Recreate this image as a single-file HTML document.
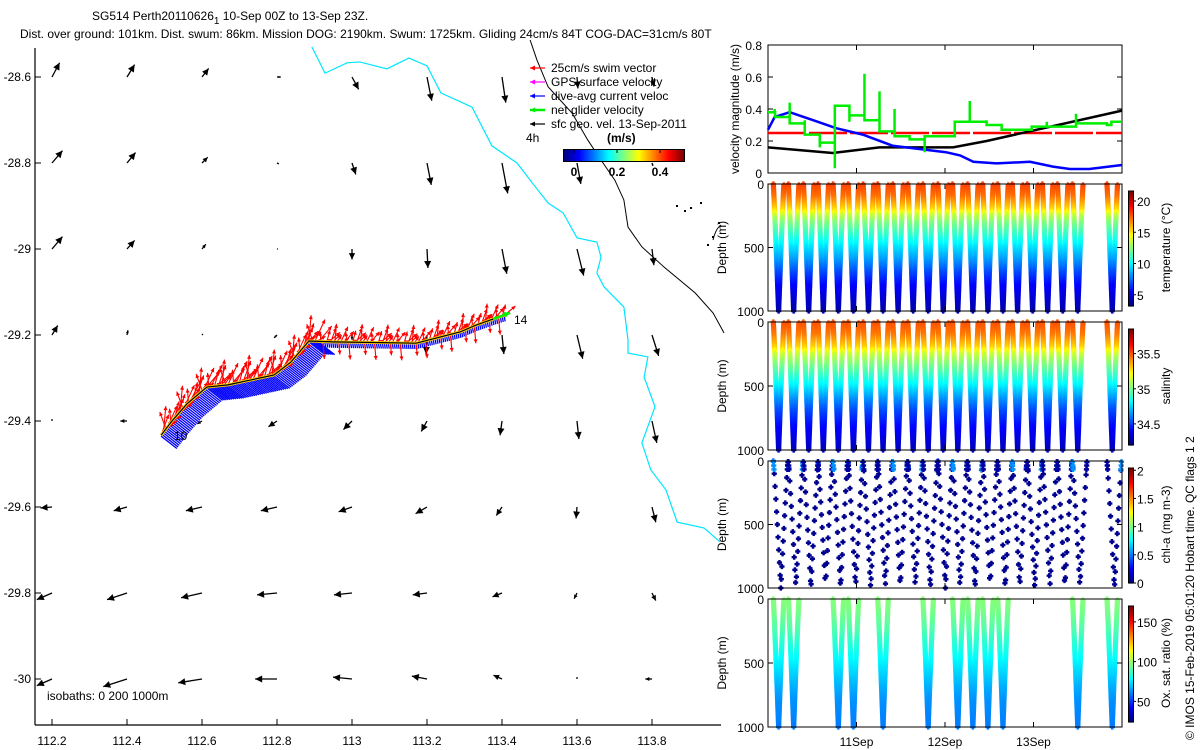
<!DOCTYPE html>
<html><head><meta charset="utf-8"><style>
html,body{margin:0;padding:0;background:#fff;}
svg{display:block;font-family:"Liberation Sans",sans-serif;}
text{font-size:12px;fill:#000;}
</style></head><body>
<svg id="fig" width="1200" height="750" viewBox="0 0 1200 750" xmlns="http://www.w3.org/2000/svg">
<rect width="1200" height="750" fill="#fff"/>
<text x="92" y="20">SG514 Perth20110626<tspan dy="4" font-size="10">1</tspan><tspan dy="-4">  10-Sep 00Z to 13-Sep 23Z.</tspan></text>
<text x="20" y="38">Dist. over ground: 101km. Dist. swum: 86km. Mission DOG: 2190km. Swum: 1725km. Gliding 24cm/s 84T COG-DAC=31cm/s 80T</text>
<g id="map"></g>
<g id="vel"></g>
<g id="prof"></g>
<text transform="translate(1194,740) rotate(-90)">© IMOS 15-Feb-2019 05:01:20 Hobart time. QC flags 1  2</text>
</svg>
<script>
// ---------- data ----------
const lonTicks=[112.2,112.4,112.6,112.8,113,113.2,113.4,113.6,113.8];
const latTicks=[-28.6,-28.8,-29,-29.2,-29.4,-29.6,-29.8,-30];
const geoU=[
[0.08,0.08,0.07,0.04,0.07,0.05,0.04,0.01,0.02],
[0.11,0.09,0.06,0.02,0.04,0.045,0.06,0.04,0.01],
[0.11,0.08,0.04,0.01,0.00,0.01,0.05,0.07,0.02],
[0.06,0.01,0.01,-0.03,0.00,-0.01,0.02,0.06,0.07],
[0.00,-0.07,-0.05,-0.09,-0.09,-0.06,-0.02,0.02,0.05],
[-0.12,-0.14,-0.17,-0.17,-0.14,-0.12,-0.06,-0.01,0.04],
[-0.16,-0.21,-0.22,-0.21,-0.19,-0.15,-0.10,-0.03,0.04],
[-0.16,-0.25,-0.25,-0.23,-0.20,-0.16,-0.09,0.00,-0.07]];
const geoV=[
[0.15,0.13,0.09,0.00,-0.13,-0.25,-0.27,-0.12,-0.10],
[0.13,0.11,0.06,-0.01,-0.12,-0.23,-0.32,-0.22,-0.03],
[0.13,0.09,0.05,0.00,-0.11,-0.20,-0.26,-0.28,-0.17],
[0.10,0.05,0.01,-0.03,-0.05,-0.20,-0.20,-0.25,-0.22],
[0.02,0.00,-0.03,-0.06,-0.09,-0.11,-0.15,-0.19,-0.23],
[-0.01,-0.04,-0.04,-0.04,-0.05,-0.07,-0.09,-0.12,-0.16],
[-0.07,-0.07,-0.05,-0.02,-0.02,-0.02,-0.04,-0.06,-0.08],
[-0.07,-0.08,-0.04,0.00,0.02,0.03,0.04,0.02,0.00]];
const trackLon=[112.491,112.52,112.56,112.613,112.669,112.792,112.837,112.885,112.949,113.171,113.288,113.331,113.376,113.411];
const trackLat=[-29.433,-29.40,-29.36,-29.321,-29.316,-29.293,-29.263,-29.214,-29.216,-29.219,-29.193,-29.177,-29.163,-29.153];
const coastLon=[112.893,112.928,112.987,113.021,113.093,113.152,113.2,113.237,113.32,113.373,113.44,113.485,113.523,113.563,113.6,113.653,113.664,113.653,113.672,113.725,113.736,113.736,113.789,113.779,113.808,113.773,113.797,113.837,113.867,113.939,113.981];
const coastLat=[-28.53,-28.591,-28.567,-28.565,-28.581,-28.556,-28.574,-28.637,-28.67,-28.76,-28.8,-28.851,-28.893,-28.916,-28.974,-28.984,-29.019,-29.056,-29.088,-29.135,-29.212,-29.242,-29.251,-29.298,-29.367,-29.451,-29.514,-29.56,-29.635,-29.649,-29.681];
const isoLon=[113.475,113.493,113.523,113.587,113.629,113.664,113.701,113.725,113.736,113.773,113.832,113.915,113.963,113.992];
const isoLat=[-28.514,-28.56,-28.623,-28.684,-28.747,-28.793,-28.84,-28.886,-28.949,-28.995,-29.042,-29.102,-29.149,-29.195];
const dayLabels=["11Sep","12Sep","13Sep"];
const dayTicks=[1,2,3];
const blueT=[0,0.075,0.245,0.51,0.77,1.07,1.41,1.71,2.01,2.17,2.32,2.58,2.96,3.22,3.41,3.63,4.0];
const blueV=[0.27,0.35,0.38,0.33,0.28,0.24,0.17,0.15,0.13,0.11,0.07,0.06,0.07,0.04,0.025,0.025,0.05];
const blackT=[0,0.73,1.26,2.09,2.47,4.0];
const blackV=[0.16,0.125,0.16,0.16,0.2,0.39];
const greenT=[0,0.08,0.245,0.415,0.585,0.755,0.92,1.09,1.26,1.43,1.6,1.77,2.11,2.47,2.64,2.81,2.98,3.15,3.48,3.83,3.88];
const greenV=[0.38,0.35,0.31,0.24,0.19,0.42,0.36,0.33,0.26,0.23,0.21,0.23,0.32,0.30,0.27,0.27,0.29,0.29,0.31,0.30,0.32];
const spikeT=[0.075,0.245,0.415,0.585,0.755,0.92,1.09,1.09,1.26,1.43,1.77,2.28,2.47,3.15,3.48];
const spikeV=[0.40,0.44,0.33,0.16,0.03,0.32,0.62,0.48,0.51,0.40,0.13,0.45,0.33,0.32,0.37];
const swimSpeed=0.25;
const diveStart=[0.06,0.23,0.40,0.565,0.735,0.905,1.075,1.24,1.41,1.58,1.75,1.92,2.085,2.255,2.425,2.595,2.76,2.93,3.10,3.27,3.44,3.83];
const oxDives=[0,1,4,5,7,10,12,13,14,15,20,21];
const profDepth=[0,100,200,250,300,400,500,600,700,800,1000];
const tempProf=[18.2,17.3,15.4,13.6,12.5,11,9.6,8.3,6.8,5.5,4.0];
const salProf=[35.52,35.45,35.3,35.15,35.07,34.93,34.8,34.65,34.52,34.43,34.3];
const oxProf=[98,96,92,90,87,82,77,72,67,63,60];
const chlProf=[0.4,0.45,0.08,0.05,0.04,0.03,0.03,0.03,0.03,0.03,0.03];
const chlJitter=[0,31,57,12,44,70,23,6,62,38,15,49,78,27,3,66,41,19,54,9,35,72];
// ---------- helpers ----------
const NS="http://www.w3.org/2000/svg";
function mk(parent,tag,attrs){const e=document.createElementNS(NS,tag);for(const k in attrs)e.setAttribute(k,attrs[k]);parent.appendChild(e);return e;}
function jet(v){v=Math.max(0,Math.min(1,v));const c=x=>Math.round(255*Math.max(0,Math.min(1,1.5-Math.abs(x))));return `rgb(${c(4*v-3)},${c(4*v-2)},${c(4*v-1)})`;}
function interp(xs,ys,x){if(x<=xs[0])return ys[0];for(let i=1;i<xs.length;i++){if(x<=xs[i]){const f=(x-xs[i-1])/(xs[i]-xs[i-1]);return ys[i-1]+f*(ys[i]-ys[i-1]);}}return ys[ys.length-1];}
function arrow(g,x1,y1,x2,y2,col,w,hs){
  mk(g,'line',{x1,y1,x2,y2,stroke:col,'stroke-width':w});
  const a=Math.atan2(y2-y1,x2-x1),L=Math.hypot(x2-x1,y2-y1);if(L<1)return;
  const h=Math.min(hs,L*0.6);
  const p=[[x2,y2],[x2-h*Math.cos(a)+h*0.5*Math.sin(a),y2-h*Math.sin(a)-h*0.5*Math.cos(a)],[x2-h*Math.cos(a)-h*0.5*Math.sin(a),y2-h*Math.sin(a)+h*0.5*Math.cos(a)]];
  mk(g,'polygon',{points:p.map(q=>q.join(',')).join(' '),fill:col});
}
// ---------- map ----------
const map=document.getElementById('map');
const X=lon=>52+(lon-112.2)*375;
const Y=lat=>77+(-28.6-lat)*430;
mk(map,'line',{x1:35,y1:48,x2:35,y2:725,stroke:'#000','stroke-width':1.2});
mk(map,'line',{x1:35,y1:725,x2:721,y2:725,stroke:'#000','stroke-width':1.2});
lonTicks.forEach(l=>{const x=X(l);mk(map,'line',{x1:x,y1:725,x2:x,y2:719,stroke:'#000'});
  const t=mk(map,'text',{x:x,y:745,'text-anchor':'middle'});t.textContent=String(l);
  });
latTicks.forEach(l=>{const y=Y(l);mk(map,'line',{x1:35,y1:y,x2:41,y2:y,stroke:'#000'});
  const t=mk(map,'text',{x:31,y:y+4,'text-anchor':'end'});t.textContent=String(l);
  });
const cst=mk(map,'polyline',{points:coastLon.map((l,i)=>X(l)+','+Y(coastLat[i])).join(' '),fill:'none',stroke:'#00e5ff','stroke-width':1.2});

const iso=mk(map,'polyline',{points:isoLon.map((l,i)=>X(l)+','+Y(isoLat[i])).join(' '),fill:'none',stroke:'#000','stroke-width':1});

[[676,205],[684,210],[690,207],[700,202],[718,222],[712,236],[707,244]].forEach(p=>mk(map,'rect',{x:p[0],y:p[1],width:2,height:2,fill:'#000'}));
mk(map,'path',{d:'M713,240 q3,-12 8,-15',stroke:'#000',fill:'none'});
const SC=95;
latTicks.forEach((la,r)=>lonTicks.forEach((lo,c)=>{
  const x=X(lo),y=Y(la);const g=mk(map,'g',{});
  
  arrow(g,x,y,x+geoU[r][c]*SC,y-geoV[r][c]*SC,'#000',1.3,7);
}));
const trk=mk(map,'g',{});
const tp=trackLon.map((l,i)=>[X(l),Y(trackLat[i])]);
const samples=[];
for(let i=1;i<tp.length;i++){const [x0,y0]=tp[i-1],[x1,y1]=tp[i];const n=Math.max(1,Math.round(Math.hypot(x1-x0,y1-y0)/2));
  for(let k=0;k<n;k++){samples.push([x0+(x1-x0)*k/n,y0+(y1-y0)*k/n]);}}
samples.forEach((p,i)=>{const west=p[0]<320;const L=west?20:5;const a=(west?38:80)*Math.PI/180;
  mk(trk,'line',{x1:p[0],y1:p[1]+1,x2:p[0]+L*Math.cos(a),y2:p[1]+1+L*Math.sin(a),stroke:'#0000ff','stroke-width':1.3});});
const redAng=[-70,-45,-85,-55,-110,-65,-30,-50,-95,-62,-20,-75,-40];
const redLen=[22,16,26,12,18,24,10,20,14,25,9,17,21];
samples.forEach((p,i)=>{const west=p[0]<320;const k=i%13;const L=redLen[k]*(west?1:0.7);let a=redAng[k];if(!west&&k%5==4)a=85;a*=Math.PI/180;
  arrow(trk,p[0],p[1],p[0]+L*Math.cos(a),p[1]+L*Math.sin(a),'#ff0000',1.1,4);});
mk(trk,'polyline',{points:tp.map(p=>p.join(',')).join(' '),fill:'none',stroke:'#ffd000','stroke-width':3});
mk(trk,'polyline',{points:tp.map(p=>p.join(',')).join(' '),fill:'none',stroke:'#000','stroke-width':1.2});
arrow(trk,tp[tp.length-2][0],tp[tp.length-2][1],tp[tp.length-1][0]+4,tp[tp.length-1][1]-2,'#00ee00',2.5,6);
let t10=mk(map,'text',{x:174,y:440});t10.textContent='10';
let t14=mk(map,'text',{x:514,y:324});t14.textContent='14';
let isb=mk(map,'text',{x:47,y:700});isb.textContent='isobaths: 0   200   1000m';isb.setAttribute('xml:space','preserve');

const leg=mk(map,'g',{});
const legItems=[['25cm/s swim vector','#ff0000',1.2],['GPS surface velocity','#ff00ff',1.2],['dive-avg current veloc','#0000ff',1.2],['net glider velocity','#00ee00',2.5],['sfc geo. vel. 13-Sep-2011','#000',1.2]];
legItems.forEach((it,i)=>{const y=68+i*14;const g=mk(leg,'g',{});
  
  arrow(g,545,y,530,y,it[1],it[2],5);const t=mk(g,'text',{x:551,y:y+4});t.textContent=it[0];});
let l4=mk(leg,'text',{x:526,y:142});l4.textContent='4h';
let lms=mk(leg,'text',{x:607,y:142,'font-weight':'bold'});lms.textContent='(m/s)';
const cbm=mk(leg,'g',{});
for(let i=0;i<120;i++)mk(cbm,'rect',{x:564+i,y:150,width:1.2,height:11,fill:jet(i/119)});
mk(cbm,'rect',{x:563.5,y:149.5,width:121,height:12,fill:'none',stroke:'#000'});
[[0,'0'],[0.2,'0.2'],[0.4,'0.4']].forEach(v=>{const x=574+v[0]*215;mk(cbm,'line',{x1:x,y1:150,x2:x,y2:153,stroke:'#000'});
  const t=mk(cbm,'text',{x:x,y:176,'text-anchor':'middle','font-weight':'bold'});t.textContent=v[1];});

// ---------- velocity panel ----------
const vel=document.getElementById('vel');
const L0=768,R0=1122;
const TX=t=>L0+t*(R0-L0)/4;
const VT=45,VB=173;const VY=v=>VB-v*(VB-VT)/0.8;
mk(vel,'rect',{x:L0,y:VT,width:R0-L0,height:VB-VT,fill:'none',stroke:'#000'});
[0,0.2,0.4,0.6,0.8].forEach(v=>{const y=VY(v);mk(vel,'line',{x1:L0,y1:y,x2:L0+5,y2:y,stroke:'#000'});mk(vel,'line',{x1:R0,y1:y,x2:R0-5,y2:y,stroke:'#000'});
  const t=mk(vel,'text',{x:L0-6,y:y+5,'text-anchor':'end','font-size':'13px'});t.textContent=v===0?'0':String(v);
  });
dayTicks.forEach(d=>{const x=TX(d);mk(vel,'line',{x1:x,y1:VB,x2:x,y2:VB-5,stroke:'#000'});mk(vel,'line',{x1:x,y1:VT,x2:x,y2:VT+5,stroke:'#000'});});
let vyl=mk(vel,'text',{transform:'translate(739,109) rotate(-90)','text-anchor':'middle'});vyl.textContent='velocity magnitude (m/s)';

const sw=mk(vel,'line',{x1:L0,y1:VY(swimSpeed),x2:R0,y2:VY(swimSpeed),stroke:'#ff0000','stroke-width':2.5,'stroke-dasharray':'38 3'});

const bl=mk(vel,'polyline',{points:blackT.map((t,i)=>TX(t)+','+VY(blackV[i])).join(' '),fill:'none',stroke:'#000','stroke-width':2.5});

const bu=mk(vel,'polyline',{points:blueT.map((t,i)=>TX(t)+','+VY(blueV[i])).join(' '),fill:'none',stroke:'#0000ff','stroke-width':2.5});

let gd='';greenT.forEach((t,i)=>{const t2=i+1<greenT.length?greenT[i+1]:4;gd+=(i===0?'M':'L')+TX(t)+','+VY(greenV[i])+'L'+TX(t2)+','+VY(greenV[i]);});
spikeT.forEach((t,i)=>{gd+='M'+TX(t)+','+VY(greenV[Math.max(0,greenT.findIndex(x=>x>t)-1)])+'L'+TX(t)+','+VY(spikeV[i]);});
const gr=mk(vel,'path',{d:gd,fill:'none',stroke:'#00ee00','stroke-width':2.5});


// ---------- profile panels ----------
const prof=document.getElementById('prof');
const panels=[
 {name:'temperature',top:184,bot:311,vals:tempProf,min:3.2,max:21.6,ticks:[5,10,15,20],label:'temperature (°C)',step:16,sel:null},
 {name:'salinity',top:322,bot:450,vals:salProf,min:34.2,max:35.85,ticks:[34.5,35,35.5],label:'salinity',step:16,sel:null},
 {name:'chl-a',top:461,bot:588,vals:chlProf,min:0,max:2.04,ticks:[0,0.5,1,1.5,2],label:'chl-a (mg m-3)',step:100,sel:null},
 {name:'oxygen',top:599,bot:727,vals:oxProf,min:24,max:170,ticks:[50,100,150],label:'Ox. sat. ratio (%)',step:16,sel:oxDives}];
panels.forEach((P,pi)=>{
  const g=mk(prof,'g',{});
  const DY=d=>P.top+d*(P.bot-P.top)/1000;
  const dots=mk(g,'g',{});
  const cross=(x,y,col)=>mk(dots,'path',{d:`M${x-2.6},${y}h5.2M${x},${y-2.6}v5.2`,stroke:col,'stroke-width':2.4});
  diveStart.forEach((ts,i)=>{
    if(P.sel&&P.sel.indexOf(i)<0)return;
    const sparse=P.step>20;
    const tb=ts+(sparse?0.085:0.06),te=ts+(sparse?0.165:0.12);
    for(let leg=0;leg<2;leg++){
      const off=sparse?chlJitter[(i*2+leg)%chlJitter.length]:(leg?P.step/2:0);
      for(let d=off;d<=1000;d+=P.step){
        const f=Math.pow(d/1000,0.9);
        const t=leg===0?ts+(tb-ts)*f:te-(te-tb)*f;
        let v=interp(profDepth,P.vals,d);
        if(P.name==='chl-a'&&d>60)v=0.03;
        cross(TX(t),DY(d),jet((v-P.min)/(P.max-P.min)));
      }
      if(sparse){for(let d=6;d<=70;d+=30){const f=Math.pow(d/1000,0.9);const t=leg===0?ts+(tb-ts)*f:te-(te-tb)*f;
        const v=(i%4===leg)?0.55:0.06;cross(TX(t),DY(d),jet(v/P.max));}}
    }
  });
  mk(g,'rect',{x:L0,y:P.top,width:R0-L0,height:P.bot-P.top,fill:'none',stroke:'#000'});
  [0,500,1000].forEach(d=>{const y=DY(d);mk(g,'line',{x1:L0,y1:y,x2:L0+5,y2:y,stroke:'#000'});mk(g,'line',{x1:R0,y1:y,x2:R0-5,y2:y,stroke:'#000'});
    const t=mk(g,'text',{x:L0-4,y:y+5,'text-anchor':'end','font-size':'13px'});t.textContent=String(d);
    });
  dayTicks.forEach(d=>{const x=TX(d);mk(g,'line',{x1:x,y1:P.bot,x2:x,y2:P.bot-5,stroke:'#000'});mk(g,'line',{x1:x,y1:P.top,x2:x,y2:P.top+5,stroke:'#000'});});
  const yl=mk(g,'text',{transform:`translate(726,${(P.top+P.bot)/2}) rotate(-90)`,'text-anchor':'middle','font-size':'13px'});yl.textContent='Depth (m)';
  
  const cb=mk(g,'g',{});
  const ct=P.top+7,cbt=P.bot-5;
  for(let k=0;k<60;k++){mk(cb,'rect',{x:1129,y:cbt-(k+1)*(cbt-ct)/60,width:4,height:(cbt-ct)/60+0.6,fill:jet(k/59)});}
  mk(cb,'rect',{x:1128.5,y:ct,width:5,height:cbt-ct,fill:'none',stroke:'#000'});
  P.ticks.forEach(v=>{const y=cbt-(v-P.min)/(P.max-P.min)*(cbt-ct);mk(cb,'line',{x1:1133,y1:y,x2:1136,y2:y,stroke:'#000'});
    const t=mk(cb,'text',{x:1137,y:y+5,'font-size':'13px'});t.textContent=String(v);});
  const cl=mk(cb,'text',{transform:`translate(1170,${(P.top+P.bot)/2}) rotate(-90)`,'text-anchor':'middle','font-size':'13px'});cl.textContent=P.label;
  
});
dayTicks.forEach((d,i)=>{const t=mk(prof,'text',{x:TX(d),y:746,'text-anchor':'middle','font-size':'13px'});t.textContent=dayLabels[i];
  });
</script>
</body></html>
